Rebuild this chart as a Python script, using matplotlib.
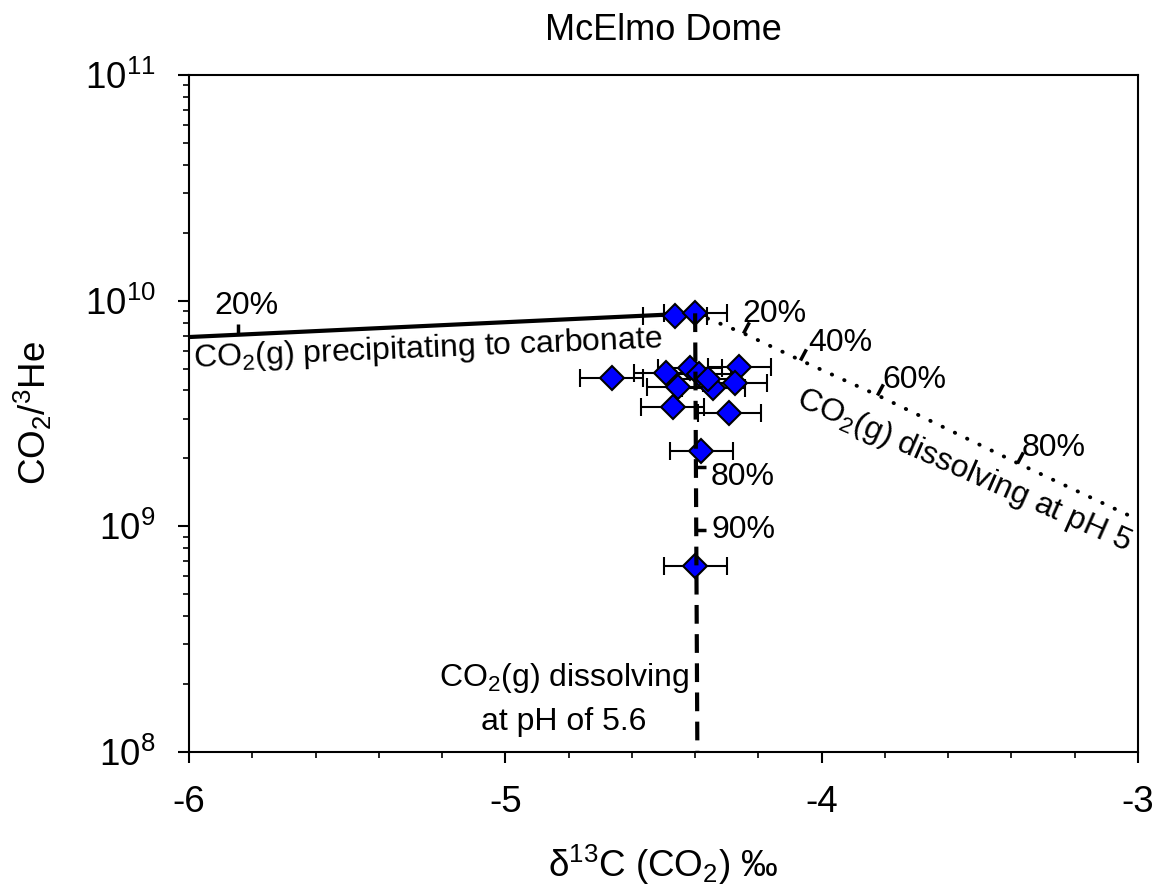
import matplotlib
matplotlib.use("Agg")
import matplotlib.pyplot as plt
import numpy as np
from matplotlib.markers import MarkerStyle
from matplotlib.path import Path

plt.rcParams['font.family'] = ['Liberation Sans', 'DejaVu Sans']
plt.rcParams['mathtext.fontset'] = 'custom'
plt.rcParams['mathtext.rm'] = 'Liberation Sans'
plt.rcParams['mathtext.it'] = 'Liberation Sans:italic'
plt.rcParams['mathtext.default'] = 'regular'

# ---- data ----
d13C = [-4.464, -4.400, -4.664, -4.492, -4.416, -4.260, -4.387, -4.453,
        -4.343, -4.274, -4.471, -4.292, -4.381, -4.400, -4.360]
ratio = [8.55e9, 8.79e9, 4.56e9, 4.77e9, 5.01e9, 5.10e9, 4.72e9, 4.16e9,
         4.09e9, 4.33e9, 3.39e9, 3.19e9, 2.16e9, 6.67e8, 4.50e9]
d13C_err = [0.1] * len(d13C)

# precipitation to carbonate (solid)
precip_x = [-6.0, -4.40]
precip_y = [6.9e9, 8.79e9]
precip_tick_x = [-5.845]
precip_tick_y = [7.06e9]

# dissolving at pH 5 (dotted)
ph5_x = [-4.40, -4.249, -4.069, -3.825, -3.382, -3.0]
ph5_y = [8.79e9, 7.19e9, 5.46e9, 3.82e9, 1.91e9, 1.07e9]
ph5_tick_x = [-4.249, -4.069, -3.825, -3.382]
ph5_tick_y = [7.19e9, 5.46e9, 3.82e9, 1.91e9]
ph5_tick_labels = ['20%', '40%', '60%', '80%']

# dissolving at pH 5.6 (dashed)
ph56_x = [-4.40, -4.393]
ph56_y = [8.79e9, 1.0e8]
ph56_tick_x = [-4.398, -4.396]
ph56_tick_y = [1.83e9, 9.63e8]
ph56_tick_labels = ['80%', '90%']

x_ticks = [-6, -5, -4, -3]
y_ticks = [1e8, 1e9, 1e10, 1e11]
y_tick_labels = [r'$10^{8}$', r'$10^{9}$', r'$10^{10}$', r'$10^{11}$']


def half_tick(angle_deg):
    a = np.deg2rad(angle_deg)
    return MarkerStyle(Path([(0, 0), (np.cos(a), np.sin(a))]))


fig = plt.figure(figsize=(11.61, 8.96), dpi=100)
ax = fig.add_axes([0.1628, 0.1607, 0.8174, 0.7556])
ax.set_yscale('log')
ax.set_xlim(-6, -3)
ax.set_ylim(1e8, 1e11)

# model curves
ax.plot(precip_x, precip_y, color='black', lw=3, solid_capstyle='butt', zorder=2)
ax.plot(ph5_x, ph5_y, color='black', lw=2.8, linestyle=(0, (0.1, 3.4)),
        dash_capstyle='round', zorder=2)
ax.plot(ph56_x, ph56_y, color='black', lw=3, linestyle=(0, (4.5, 2.5)), zorder=4)

# tick marks on curves
ax.plot(precip_tick_x, precip_tick_y, linestyle='none', marker=half_tick(90),
        markersize=16, markeredgewidth=2.5, color='black', zorder=2)
ax.plot(ph5_tick_x, ph5_tick_y, linestyle='none', marker=half_tick(62),
        markersize=16, markeredgewidth=2.5, color='black', zorder=2)
ax.plot(ph56_tick_x, ph56_tick_y, linestyle='none', marker=half_tick(0),
        markersize=14, markeredgewidth=2.5, color='black', zorder=4)

# data
ax.errorbar(d13C, ratio, xerr=d13C_err, fmt='D', color='black', ecolor='black',
            elinewidth=1.5, capsize=6.5, capthick=1.5, markersize=12.5,
            markerfacecolor='#0000FF', markeredgecolor='black',
            markeredgewidth=1.5, zorder=3)

# annotations
fs = 23
ax.annotate('20%', (precip_tick_x[0], precip_tick_y[0]), xytext=(6, 21),
            textcoords='offset points', fontsize=fs, ha='center', va='center')
ax.text(-5.985, 5.5e9, r'CO$_2$(g) precipitating to carbonate', fontsize=fs,
        rotation=2.4, rotation_mode='anchor', ha='left', va='center')

ph5_offsets = [(23, 14), (29, 12), (27, 11), (26, 11)]
for tx, ty, lab, off in zip(ph5_tick_x, ph5_tick_y, ph5_tick_labels, ph5_offsets):
    ax.annotate(lab, (tx, ty), xytext=off, textcoords='offset points',
                fontsize=fs, ha='center', va='center')
ax.text(-3.55, 1.77e9, r'CO$_2$(g) dissolving at pH 5', fontsize=fs,
        rotation=-23.8, rotation_mode='anchor', ha='center', va='center')

ph56_offsets = [(34, -7), (34, 0)]
for tx, ty, lab, off in zip(ph56_tick_x, ph56_tick_y, ph56_tick_labels, ph56_offsets):
    ax.annotate(lab, (tx, ty), xytext=off, textcoords='offset points',
                fontsize=fs, ha='center', va='center')
ax.text(-4.815, 1.72e8, 'CO$_2$(g) dissolving\nat pH of 5.6', fontsize=fs,
        ha='center', va='center', linespacing=1.5)

# axes styling
for s in ax.spines.values():
    s.set_linewidth(1.5)
ax.set_xticks(x_ticks)
ax.set_xticklabels([str(v) for v in x_ticks])
ax.set_xticks(np.arange(-6, -2.99, 0.2), minor=True)
ax.set_yticks(y_ticks)
ax.set_yticklabels(y_tick_labels)
ax.yaxis.set_minor_locator(matplotlib.ticker.LogLocator(base=10, subs=np.arange(2, 10)))
ax.yaxis.set_minor_formatter(matplotlib.ticker.NullFormatter())
ax.tick_params(axis='both', which='major', direction='out', length=8, width=1.5,
               labelsize=26.5)
ax.tick_params(axis='both', which='minor', direction='out', length=4.5, width=1.2)
ax.tick_params(axis='x', which='major', pad=16)
ax.tick_params(axis='y', which='major', pad=16)
ax.tick_params(top=False, right=False, which='both')

ax.set_xlabel(r'$\delta^{13}$C (CO$_2$) ‰', fontsize=26.5, labelpad=16)
ax.set_ylabel(r'CO$_2$/$^3$He', fontsize=26.5, labelpad=22)
fig.text(0.571, 0.966, 'McElmo Dome', fontsize=26, ha='center', va='center')

fig.savefig('out.png', dpi=100)
